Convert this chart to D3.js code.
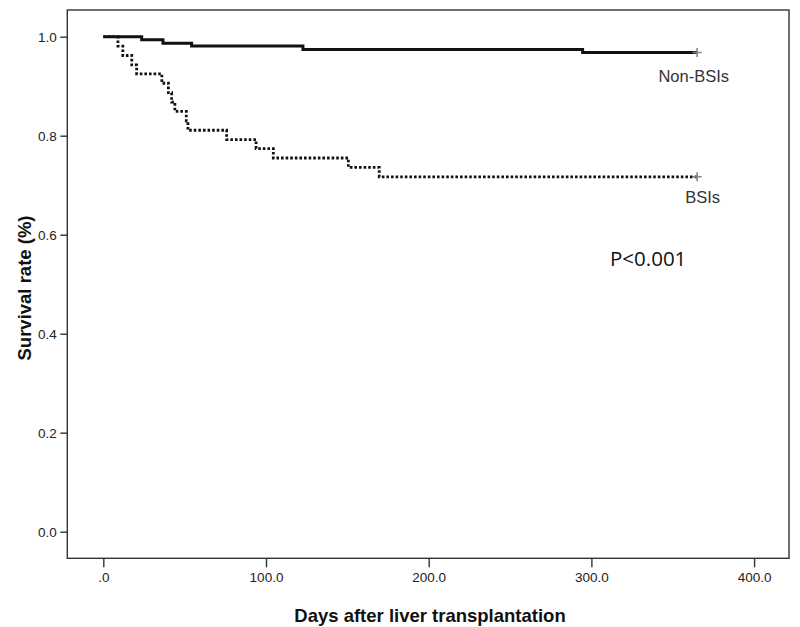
<!DOCTYPE html>
<html>
<head>
<meta charset="utf-8">
<script src="https://cdn.jsdelivr.net/npm/d3@7"></script>
<style>
  html, body { margin: 0; padding: 0; background: #fff; }
  svg { display: block; }
</style>
</head>
<body>
<svg id="chart" width="800" height="627"></svg>
<script>
// ---- data ----
const xTicks = [0, 100, 200, 300, 400];
const yTicks = [0, 0.2, 0.4, 0.6, 0.8, 1.0];
const seriesNames = ["Non-BSIs", "BSIs"];
const nonBsiDays = [0, 23.6, 36.7, 54.3, 122.7, 294.6, 365];
const nonBsiSurv = [1, 0.994, 0.987, 0.981, 0.974, 0.968, 0.968];
const bsiDays = [0, 9, 12, 17.5, 20.5, 36, 40, 42, 44, 51, 52, 75.8, 93.9, 104.5, 150.6, 169.6, 365];
const bsiSurv = [1, 0.981, 0.962, 0.943, 0.925, 0.906, 0.887, 0.868, 0.849, 0.830, 0.811, 0.792, 0.774, 0.755, 0.736, 0.717, 0.717];
const pText = "P<0.001";
const xTitle = "Days after liver transplantation";
const yTitle = "Survival rate (%)";

// ---- layout ----
const svg = d3.select("#chart");
const frame = { left: 67.3, right: 789, top: 10, bottom: 558.3 };
const x = d3.scaleLinear().domain([0, 400]).range([103.3, 754.1]);
const y = d3.scaleLinear().domain([0, 1]).range([531.7, 36.7]);

const ink = "#222";

// frame
svg.append("rect")
  .attr("x", frame.left).attr("y", frame.top)
  .attr("width", frame.right - frame.left)
  .attr("height", frame.bottom - frame.top)
  .attr("fill", "none").attr("stroke", "#333").attr("stroke-width", 1.4);

// y axis
const yAxis = svg.append("g")
  .attr("transform", `translate(${frame.left},0)`)
  .call(d3.axisLeft(y).tickValues(yTicks).tickFormat(d3.format(".1f"))
        .tickSize(7).tickPadding(3.6));
yAxis.select(".domain").remove();
yAxis.selectAll("line").attr("stroke", "#333").attr("stroke-width", 1.4);
yAxis.selectAll("text").attr("font-family", "Liberation Sans, Arial, sans-serif")
  .attr("font-size", 13.5).attr("fill", ink);

// x axis
const xAxis = svg.append("g")
  .attr("transform", `translate(0,${frame.bottom})`)
  .call(d3.axisBottom(x).tickValues(xTicks)
        .tickFormat(d => d === 0 ? ".0" : d.toFixed(1))
        .tickSize(9).tickPadding(5));
xAxis.select(".domain").remove();
xAxis.selectAll("line").attr("stroke", "#333").attr("stroke-width", 1.4);
xAxis.selectAll("text").attr("font-family", "Liberation Sans, Arial, sans-serif")
  .attr("font-size", 13.5).attr("fill", ink);

// curves
const line = d3.line().curve(d3.curveStepAfter).x(d => x(d[0])).y(d => y(d[1]));
const nonBsi = nonBsiDays.map((d, i) => [d, nonBsiSurv[i]]);
const bsi = bsiDays.map((d, i) => [d, bsiSurv[i]]);

svg.append("path").datum(nonBsi).attr("d", line)
  .attr("fill", "none").attr("stroke", "#111").attr("stroke-width", 3);
svg.append("path").datum(bsi).attr("d", line)
  .attr("fill", "none").attr("stroke", "#111").attr("stroke-width", 2.8)
  .attr("stroke-dasharray", "2.6,2");

// censor marks
[nonBsi, bsi].forEach(s => {
  const last = s[s.length - 1];
  const cx = x(last[0]), cy = y(last[1]);
  svg.append("path")
    .attr("d", `M${cx - 4.5},${cy}H${cx + 4.5}M${cx},${cy - 4.5}V${cy + 4.5}`)
    .attr("stroke", "#888").attr("stroke-width", 1.6);
});

// series labels
svg.append("text").attr("x", 729).attr("y", 81.7).attr("text-anchor", "end")
  .attr("font-family", "Liberation Sans, Arial, sans-serif").attr("font-size", 16.5)
  .attr("fill", "#333").text(seriesNames[0]);
svg.append("text").attr("x", 720).attr("y", 202.7).attr("text-anchor", "end")
  .attr("font-family", "Liberation Sans, Arial, sans-serif").attr("font-size", 16.5)
  .attr("fill", "#333").text(seriesNames[1]);

// p value
svg.append("text").attr("x", 610).attr("y", 266)
  .attr("font-family", "Open Sans, Noto Sans, sans-serif").attr("font-size", 20.5)
  .attr("fill", "#111").text(pText);

// axis titles
svg.append("text").attr("x", 430).attr("y", 621.5).attr("text-anchor", "middle")
  .attr("font-family", "Liberation Sans, Arial, sans-serif").attr("font-weight", "bold")
  .attr("font-size", 18.5).attr("fill", "#111").text(xTitle);
svg.append("text")
  .attr("transform", "translate(31,288) rotate(-90)")
  .attr("text-anchor", "middle")
  .attr("font-family", "Liberation Sans, Arial, sans-serif").attr("font-weight", "bold")
  .attr("font-size", 18.5).attr("fill", "#111").text(yTitle);
</script>
</body>
</html>
